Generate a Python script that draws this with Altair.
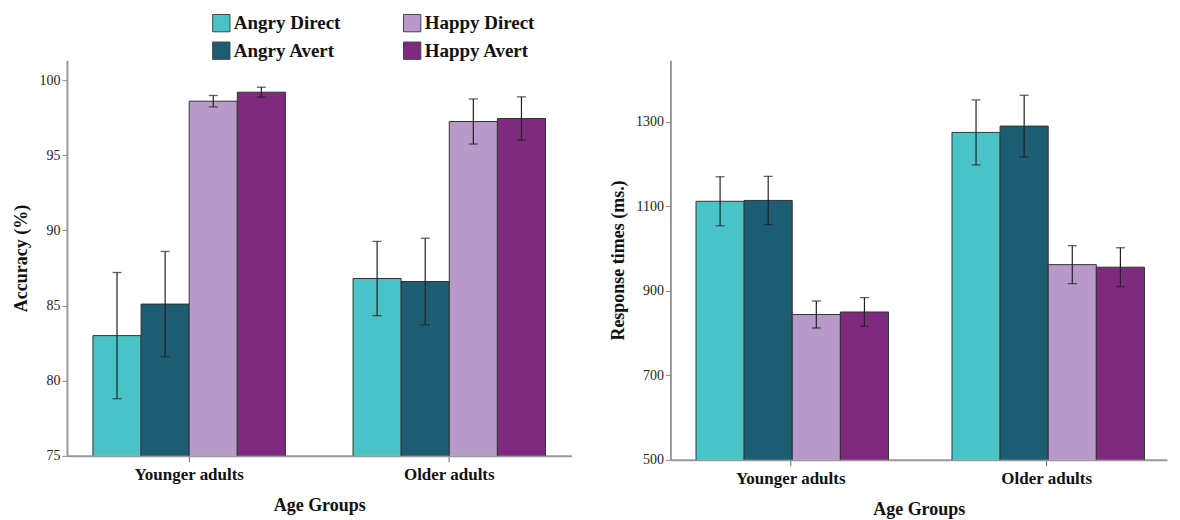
import altair as alt
import pandas as pd

groups = ["Younger adults", "Older adults"]
conditions = ["Angry Direct", "Angry Avert", "Happy Direct", "Happy Avert"]
colors = {"Angry Direct": "#4AC3C8", "Angry Avert": "#1C5D73",
          "Happy Direct": "#B79ACA", "Happy Avert": "#7E2A7E"}

acc_young = [83.0, 85.1, 98.6, 99.2]
acc_young_err = [4.2, 3.5, 0.38, 0.33]
acc_old = [86.8, 86.6, 97.25, 97.45]
acc_old_err = [2.47, 2.88, 1.5, 1.44]

rt_young = [1112, 1114, 844, 850]
rt_young_err = [58, 57, 32, 34]
rt_old = [1275, 1290, 962, 956]
rt_old_err = [77, 73, 45, 46]


def make_df(young, young_err, old, old_err):
    rows = []
    for g, vals, errs in [(groups[0], young, young_err), (groups[1], old, old_err)]:
        for c, v, e in zip(conditions, vals, errs):
            rows.append({"group": g, "cond": c, "value": v, "lo": v - e, "hi": v + e})
    return pd.DataFrame(rows)


acc_df = make_df(acc_young, acc_young_err, acc_old, acc_old_err)
rt_df = make_df(rt_young, rt_young_err, rt_old, rt_old_err)

FONT = "Liberation Serif"


def panel(df, ytitle, domain, ticks, width, height, legend=False):
    x = alt.X("group:N", sort=groups,
              scale=alt.Scale(paddingInner=0.26, paddingOuter=0.1),
              axis=alt.Axis(title="Age Groups", labelAngle=0, labelFontWeight="bold",
                            labelFontSize=17, labelColor="#111", titleFontSize=18,
                            titleFontWeight="bold", titleColor="#111", tickSize=6,
                            labelPadding=5, titlePadding=14,
                            domainColor="#999", domainWidth=2, tickColor="#666"))
    xo = alt.XOffset("cond:N", sort=conditions,
                     scale=alt.Scale(domain=conditions, paddingInner=0, paddingOuter=0))
    y = alt.Y("value:Q", scale=alt.Scale(domain=domain, nice=False, zero=False),
              axis=alt.Axis(title=ytitle, values=ticks, format="d", grid=False, labelFontSize=14,
                            labelColor="#222", titleFontSize=18, titleFontWeight="bold",
                            titleColor="#111", tickSize=5, tickColor="#888",
                            domainColor="#999", domainWidth=2, titlePadding=8))
    cscale = alt.Scale(domain=conditions, range=[colors[c] for c in conditions])
    if legend:
        color = alt.Color("cond:N", scale=cscale,
                          legend=alt.Legend(title=None, orient="none", legendX=145, legendY=-47,
                                            columns=2, columnPadding=60, rowPadding=5,
                                            symbolType="square", symbolSize=300,
                                            symbolStrokeColor="#444", symbolStrokeWidth=1,
                                            symbolOpacity=1,
                                            labelFont=FONT, labelFontSize=19,
                                            labelFontWeight="bold", labelColor="#111",
                                            labelOffset=3))
    else:
        color = alt.Color("cond:N", scale=cscale, legend=None)
    bars = alt.Chart(df).mark_bar(stroke="#333", strokeWidth=1, clip=True).encode(
        x=x, xOffset=xo, y=y, color=color)
    rules = alt.Chart(df).mark_rule(color="#222", strokeWidth=1.2).encode(
        x=alt.X("group:N", sort=groups), xOffset=xo, y="lo:Q", y2="hi:Q")
    cap_hi = alt.Chart(df).mark_tick(color="#222", thickness=1.3, size=9).encode(
        x=alt.X("group:N", sort=groups), xOffset=xo, y="hi:Q")
    cap_lo = alt.Chart(df).mark_tick(color="#222", thickness=1.3, size=9).encode(
        x=alt.X("group:N", sort=groups), xOffset=xo, y="lo:Q")
    return alt.layer(bars, rules, cap_hi, cap_lo).properties(width=width, height=height)


left = panel(acc_df, "Accuracy (%)", [75, 101.33], [75, 80, 85, 90, 95, 100], 505, 396, legend=True)
right = panel(rt_df, "Response times (ms.)", [500, 1446], [500, 700, 900, 1100, 1300], 497, 400)

chart = (
    alt.hconcat(left, right, spacing=38)
    .resolve_scale(y="independent")
    .configure(font=FONT)
    .configure_view(stroke=None, strokeWidth=0)
    .configure_axis(labelFont=FONT, titleFont=FONT)
)

chart.save("out.html", embed_options={"renderer": "svg", "actions": False})
